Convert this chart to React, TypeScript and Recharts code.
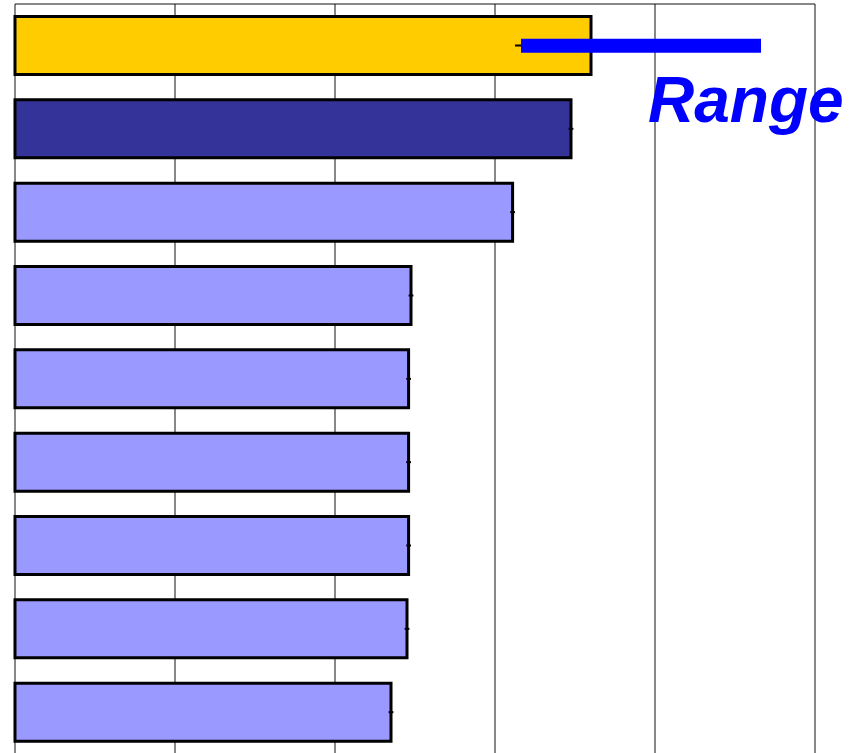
import { BarChart, Bar, XAxis, YAxis, CartesianGrid, Cell, ErrorBar, ReferenceLine } from "recharts";

const categories = ["1", "2", "3", "4", "5", "6", "7", "8", "9"];
const values = [3.6, 3.475, 3.11, 2.475, 2.46, 2.46, 2.46, 2.45, 2.35];
const errLow = [0.475, 0.015, 0.015, 0.015, 0.015, 0.015, 0.015, 0.015, 0.015];
const errHigh = [0, 0.015, 0.015, 0.015, 0.015, 0.015, 0.015, 0.015, 0.015];
const colors = ["#FFCC00", "#333399", "#9999FF", "#9999FF", "#9999FF", "#9999FF", "#9999FF", "#9999FF", "#9999FF"];
const xTicks = [0, 1, 2, 3, 4, 5];
const rangeStart = 3.1625;
const rangeEnd = 4.6625;

const data = categories.map((c, i) => ({
  name: c,
  value: values[i],
  err: [errLow[i], errHigh[i]],
}));

export default function App() {
  return (
    <div style={{ position: "fixed", left: 0, top: 0, width: 859, height: 753, background: "#fff", overflow: "hidden" }}>
      <BarChart
        width={859}
        height={754}
        layout="vertical"
        data={data}
        margin={{ top: 4, right: 44, bottom: 0, left: 15 }}
        barCategoryGap="15%"
      >
        <CartesianGrid
          stroke="#111"
          strokeWidth={1}
          horizontalCoordinatesGenerator={({ offset }: any) => [offset.top]}
        />
        <XAxis type="number" domain={[0, 5]} ticks={xTicks} hide />
        <YAxis type="category" dataKey="name" hide />
        <Bar dataKey="value" stroke="#000" strokeWidth={3} isAnimationActive={false}>
          {data.map((d, i) => (
            <Cell key={d.name} fill={colors[i]} />
          ))}
          <ErrorBar dataKey="err" direction="x" width={0} stroke="#000" strokeWidth={2} />
        </Bar>
        <ReferenceLine
          segment={[{ x: rangeStart, y: categories[0] }, { x: rangeEnd, y: categories[0] }]}
          stroke="#0000FF"
          strokeWidth={14}
          ifOverflow="visible"
        />
      </BarChart>
      <div
        style={{
          position: "absolute",
          left: 648,
          top: 64,
          fontFamily: "'Liberation Sans', Arial, sans-serif",
          fontWeight: "bold",
          fontStyle: "italic",
          fontSize: 64,
          lineHeight: "72px",
          color: "#0000FF",
          whiteSpace: "nowrap",
        }}
      >
        Range
      </div>
    </div>
  );
}
